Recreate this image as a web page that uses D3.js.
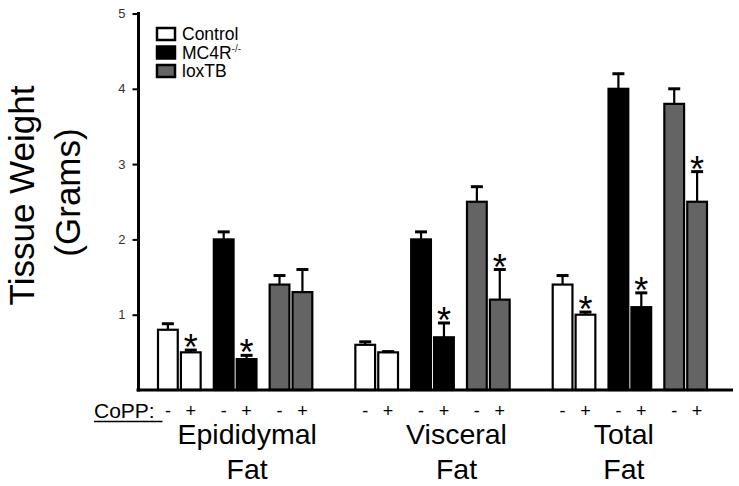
<!DOCTYPE html>
<html>
<head>
<meta charset="utf-8">
<script src="https://cdn.jsdelivr.net/npm/d3@7"></script>
<style>
  html, body { margin: 0; padding: 0; background: #fff; }
  svg { display: block; font-family: Arial, "Liberation Sans", Helvetica, sans-serif; }
</style>
</head>
<body>
<svg id="chart" width="739" height="486"></svg>
<script>
// ---- data ----
const groups = ["Epididymal Fat", "Visceral Fat", "Total Fat"];
const groupLines = [["Epididymal", "Fat"], ["Visceral", "Fat"], ["Total", "Fat"]];
const genotypes = ["Control", "MC4R", "loxTB"];
const treatments = ["-", "+"];
const yTicks = [1, 2, 3, 4, 5];

// means [group][treatment] per genotype
const controlMean = [[0.80, 0.50], [0.60, 0.50], [1.40, 1.00]];
const mc4rMean    = [[2.00, 0.41], [2.00, 0.70], [4.00, 1.10]];
const loxtbMean   = [[1.40, 1.30], [2.50, 1.20], [3.80, 2.50]];
const controlSE   = [[0.08, 0.03], [0.04, 0.01], [0.12, 0.035]];
const mc4rSE      = [[0.10, 0.05], [0.10, 0.19], [0.20, 0.19]];
const loxtbSE     = [[0.12, 0.30], [0.20, 0.40], [0.20, 0.40]];
const controlSig  = [[false, true], [false, false], [false, true]];
const mc4rSig     = [[false, true], [false, true], [false, true]];
const loxtbSig    = [[false, false], [false, true], [false, true]];

const means = { Control: controlMean, MC4R: mc4rMean, loxTB: loxtbMean };
const ses   = { Control: controlSE, MC4R: mc4rSE, loxTB: loxtbSE };
const sigs  = { Control: controlSig, MC4R: mc4rSig, loxTB: loxtbSig };
const fills = { Control: "#ffffff", MC4R: "#000000", loxTB: "#646464" };

const rows = [];
groups.forEach((g, gi) => genotypes.forEach(gt => treatments.forEach((t, ti) => {
  rows.push({ group: g, gi, genotype: gt, treatment: t,
    value: means[gt][gi][ti], se: ses[gt][gi][ti], sig: sigs[gt][gi][ti] });
})));

// ---- layout ----
const svg = d3.select("#chart");
const axisX = 138.5, baseY = 390;

const y = d3.scaleLinear().domain([0, 5]).range([baseY, 13.5]);
const x0 = d3.scaleBand().domain(groups).range([157, 708]).paddingInner(0.208).paddingOuter(0);
const x1 = d3.scaleBand().domain(genotypes).range([0, x0.bandwidth()]).paddingInner(0.2).paddingOuter(0);
const x2 = d3.scaleBand().domain(treatments).range([0, x1.bandwidth()]).paddingInner(0.05).paddingOuter(0);
const bx = d => x0(d.group) + x1(d.genotype) + x2(d.treatment);
const bc = d => bx(d) + x2.bandwidth() / 2;

// bars
svg.append("g").selectAll("rect").data(rows).join("rect")
  .attr("x", d => bx(d) + 1)
  .attr("y", d => y(d.value))
  .attr("width", x2.bandwidth() - 2)
  .attr("height", d => y(0) - y(d.value))
  .attr("fill", d => fills[d.genotype])
  .attr("stroke", "#000")
  .attr("stroke-width", 2.2);

// error bars (upper only)
const eb = svg.append("g").attr("stroke", "#000");
eb.selectAll("line.stem").data(rows).join("line").attr("class", "stem")
  .attr("x1", bc).attr("x2", bc)
  .attr("y1", d => y(d.value)).attr("y2", d => y(d.value + d.se))
  .attr("stroke-width", 2.2);
eb.selectAll("line.cap").data(rows).join("line").attr("class", "cap")
  .attr("x1", d => bc(d) - 6).attr("x2", d => bc(d) + 6)
  .attr("y1", d => y(d.value + d.se)).attr("y2", d => y(d.value + d.se))
  .attr("stroke-width", 3);

// asterisks
svg.append("g").selectAll("text").data(rows.filter(d => d.sig)).join("text")
  .attr("x", bc)
  .attr("y", d => y(d.value + d.se) + 10)
  .attr("text-anchor", "middle")
  .attr("font-size", 36)
  .attr("fill", "#000")
  .text("*");

// axes lines
svg.append("line").attr("x1", axisX).attr("x2", axisX).attr("y1", y(5) - 1.5).attr("y2", baseY + 1.5)
  .attr("stroke", "#000").attr("stroke-width", 3);
svg.append("line").attr("x1", axisX - 2).attr("x2", 733).attr("y1", baseY).attr("y2", baseY)
  .attr("stroke", "#000").attr("stroke-width", 3);

// y ticks via d3 axis
const yAxis = d3.axisLeft(y).tickValues(yTicks).tickSize(5).tickPadding(7).tickFormat(d3.format("d"));
const ya = svg.append("g").attr("transform", `translate(${axisX - 1},0)`).call(yAxis);
ya.select(".domain").remove();
ya.selectAll(".tick line").attr("stroke", "#000").attr("stroke-width", 2);
ya.selectAll(".tick text").attr("font-size", 13).attr("fill", "#333")
  .attr("font-family", "Arial, 'Liberation Sans', sans-serif");

// y title
svg.append("text").attr("transform", "translate(33.5,195.5) rotate(-90)")
  .attr("text-anchor", "middle").attr("font-size", 35).text("Tissue Weight");
svg.append("text").attr("transform", "translate(80,192.5) rotate(-90)")
  .attr("text-anchor", "middle").attr("font-size", 35).text("(Grams)");

// legend
const leg = svg.append("g");
genotypes.forEach((gt, i) => {
  const cy = 34 + i * 18.5;
  leg.append("rect").attr("x", 157).attr("y", cy - 6).attr("width", 18).attr("height", 12)
    .attr("fill", fills[gt]).attr("stroke", "#000").attr("stroke-width", 2.5);
  const t = leg.append("text").attr("x", 182).attr("y", cy + 6.3).attr("font-size", 17.5).text(gt);
  if (gt === "MC4R") {
    t.append("tspan").attr("font-size", 10).attr("dy", -7).attr("fill", "#333").text("-/-");
  }
});

// CoPP row
svg.append("text").attr("x", 94).attr("y", 418).attr("font-size", 21).text("CoPP:");
svg.append("line").attr("x1", 94).attr("x2", 162.5).attr("y1", 421.5).attr("y2", 421.5)
  .attr("stroke", "#000").attr("stroke-width", 1.5);
svg.append("g").selectAll("text").data(rows).join("text")
  .attr("x", bc).attr("y", 417).attr("text-anchor", "middle").attr("font-size", 18)
  .text(d => d.treatment);

// group labels
const labelShift = [12, 24, -6];
groups.forEach((g, gi) => {
  const cx = x0(g) + x0.bandwidth() / 2 + labelShift[gi];
  groupLines[gi].forEach((ln, li) => {
    svg.append("text").attr("x", cx).attr("y", 443.5 + li * 35)
      .attr("text-anchor", "middle").attr("font-size", 28.5).text(ln);
  });
});
</script>
</body>
</html>
